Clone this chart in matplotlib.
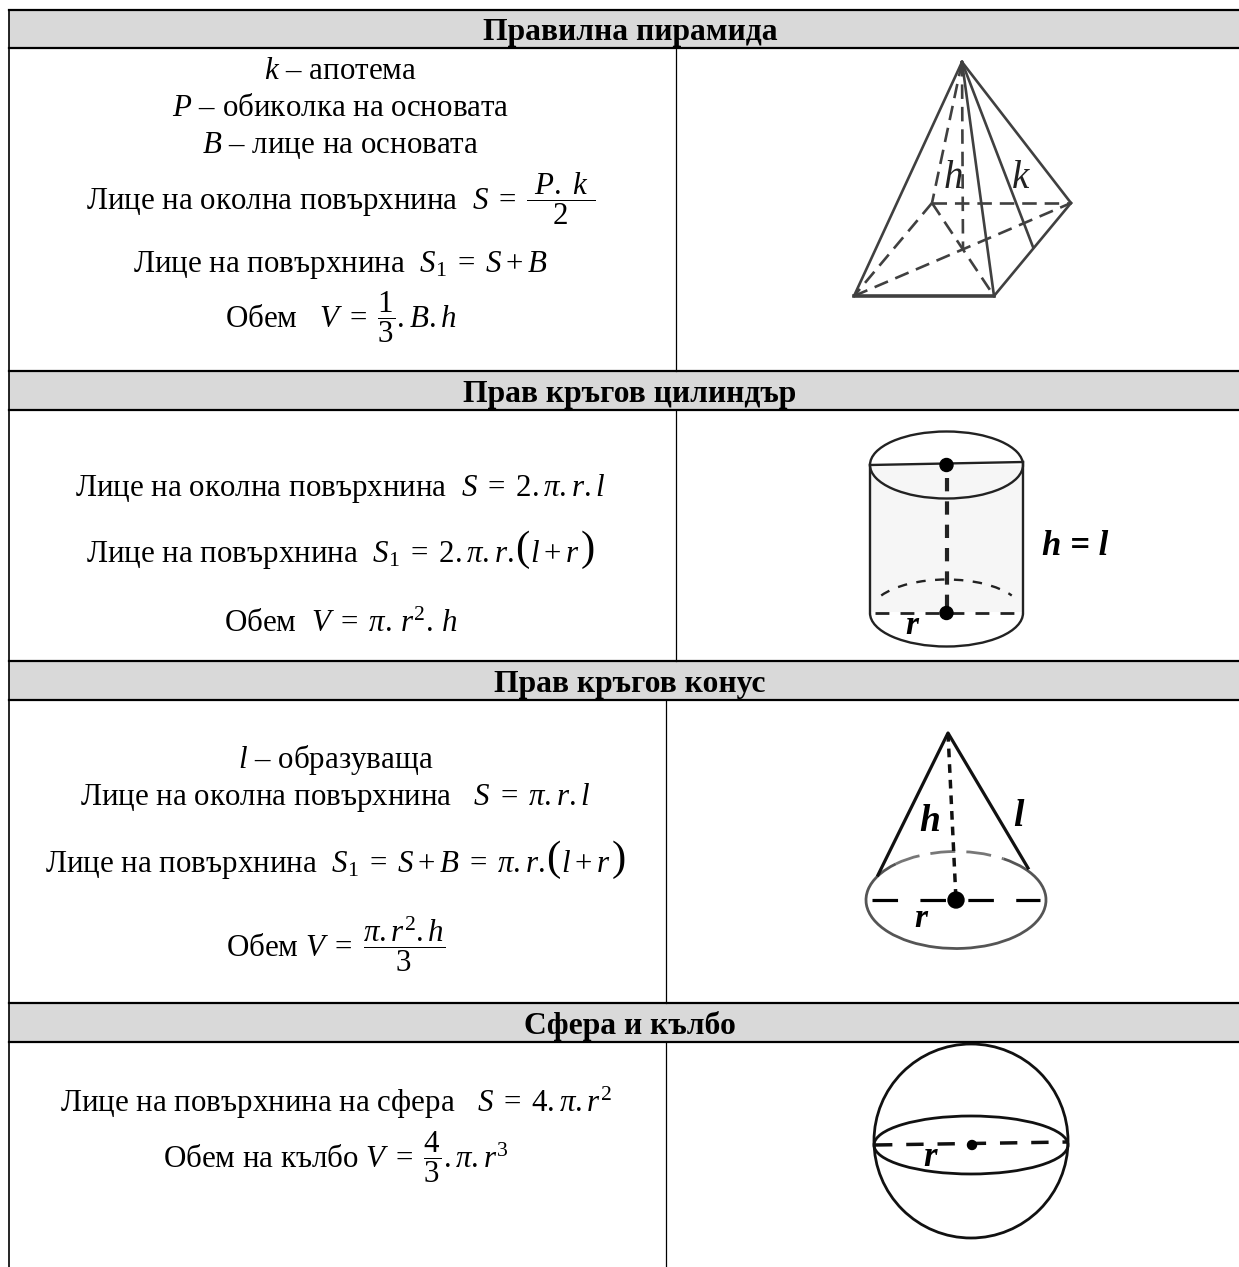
import matplotlib
matplotlib.use('Agg')
import matplotlib.pyplot as plt
from matplotlib.patches import Arc, Circle, Polygon

plt.rcParams['font.family'] = ['Liberation Serif', 'DejaVu Serif']
plt.rcParams['mathtext.fontset'] = 'custom'
plt.rcParams['mathtext.rm'] = 'Liberation Serif'
plt.rcParams['mathtext.it'] = 'Liberation Serif:italic'
plt.rcParams['mathtext.bf'] = 'Liberation Serif:bold'

headers = ['Правилна пирамида', 'Прав кръгов цилиндър', 'Прав кръгов конус', 'Сфера и кълбо']
header_tops = [10, 371, 661, 1003]
header_bottoms = [48, 410, 700, 1042]
column_lines = [676, 676, 666, 666]
body_bottoms = [371, 661, 1003, 1267]

# a line is a list of pieces, parens are drawn bigger than the rest
pyramid_lines = [['$k$ – апотема'], ['$P$ – обиколка на основата'], ['$B$ – лице на основата'],
                 [r'Лице на околна повърхнина  $S\;=\;\dfrac{\ P.\ k\ }{2}$'],
                 [r'Лице на повърхнина  $S_1\;=\;S+B$'],
                 [r'Обем   $V\;=\;\dfrac{1}{3}.B.h$']]
pyramid_y = [79, 116, 153, 210, 272, 328]
cylinder_lines = [[r'Лице на околна повърхнина  $S\;=\;2.\pi.r.l$'],
                  [r'Лице на повърхнина  $S_1\;=\;2.\pi.r.$', '(', '$l+r$', ')'],
                  [r'Обем  $V\;=\;\pi.\,r^2.\,h$']]
cylinder_y = [496, 562, 632]
cone_lines = [['$l$ – образуваща'],
              [r'Лице на околна повърхнина   $S\;=\;\pi.r.l$'],
              [r'Лице на повърхнина  $S_1\;=\;S+B\;=\;\pi.r.\,$', '(', '$l+r$', ')'],
              [r'Обем $V\;=\;\dfrac{\pi.r^2.h}{3}$']]
cone_y = [768, 805, 872, 957]
sphere_lines = [[r'Лице на повърхнина на сфера   $S\;=\;4.\pi.r^2$'],
                [r'Обем на кълбо $V\;=\;\dfrac{4}{3}.\pi.r^3$']]
sphere_y = [1112, 1168]

fig = plt.figure(figsize=(12.39, 12.67), dpi=100)
ax = fig.add_axes([0, 0, 1, 1])
ax.set_xlim(0, 1239)
ax.set_ylim(1267, 0)
ax.axis('off')
rend = fig.canvas.get_renderer()


def draw_line(pieces, cx, y):
    # place pieces one after the other, measured, then centred on cx
    items = []
    for p in pieces:
        big = p in '()'
        t = ax.text(0, y - 2 if big else y, p, ha='left', va='baseline', fontsize=31 if big else 22.3)
        items.append((t, t.get_window_extent(rend).width + 1))
    x = cx - sum(w for t, w in items) / 2
    for t, w in items:
        t.set_x(x)
        x += w


# table
for i in range(4):
    ax.fill_between([9, 1239], header_tops[i], header_bottoms[i], color='#d9d9d9', lw=0)
    ax.plot([9, 1239], [header_tops[i]] * 2, color='k', lw=1.6)
    ax.plot([9, 1239], [header_bottoms[i]] * 2, color='k', lw=1.6)
    ax.plot([column_lines[i]] * 2, [header_bottoms[i], body_bottoms[i]], color='k', lw=0.9)
    ax.text(630, header_bottoms[i] - 8, headers[i], ha='center', va='baseline', fontsize=22.8, fontweight='bold')
ax.plot([9, 9], [10, 1267], color='k', lw=1.2)

for lines, ys, cx in [(pyramid_lines, pyramid_y, 341), (cylinder_lines, cylinder_y, 341),
                      (cone_lines, cone_y, 336), (sphere_lines, sphere_y, 336)]:
    for s, y in zip(lines, ys):
        draw_line(s, cx, y)

# pyramid
grey = '#404040'
solid = [((854, 296), (962, 62)), ((962, 62), (1071, 203)), ((962, 62), (994, 296)),
         ((962, 62), (1033, 247)), ((994, 296), (1071, 203))]
dashed = [((962, 62), (932, 203)), ((962, 62), (963, 248)), ((932, 203), (854, 296)),
          ((932, 203), (1071, 203)), ((854, 296), (1071, 203)), ((932, 203), (994, 296))]
for a, b in solid:
    ax.plot([a[0], b[0]], [a[1], b[1]], color=grey, lw=1.9)
ax.plot([854, 994], [296, 296], color=grey, lw=2.6)
for a, b in dashed:
    ax.plot([a[0], b[0]], [a[1], b[1]], color=grey, lw=1.9, dashes=(5.5, 3))
ax.text(953, 188, '$h$', fontsize=28, ha='center', va='baseline', color='#222222')
ax.text(1021, 188, '$k$', fontsize=28, ha='center', va='baseline', color='#222222')

# cylinder
dark = '#222222'
ax.add_patch(Polygon([(870, 465), (1023, 465), (1023, 612), (870, 612)], color='#f6f6f6', lw=0))
ax.add_patch(Arc((946.5, 465), 153, 67, color=dark, lw=1.7))
ax.add_patch(Arc((946.5, 613), 153, 67, theta1=0, theta2=180, color=dark, lw=1.7))
ax.add_patch(Arc((946.5, 613), 153, 67, theta1=195, theta2=345, color=dark, lw=1.7, ls=(0, (4, 4))))
ax.plot([870, 1023], [465, 462], color=dark, lw=1.7)
ax.plot([870, 870], [465, 612], color=dark, lw=1.7)
ax.plot([1023, 1023], [462, 612], color=dark, lw=1.7)
ax.plot([946.5, 946.5], [478, 613], color=dark, lw=3, dashes=(3.2, 2.4))
ax.plot([875, 1018], [613, 613], color=dark, lw=2, dashes=(5, 4))
ax.add_patch(Circle((946.5, 465), 6.5, color='k', zorder=4))
ax.add_patch(Circle((946.5, 613), 6.5, color='k', zorder=4))
ax.text(912, 634, 'r', fontsize=24, ha='center', va='baseline', style='italic', fontweight='bold')
ax.text(1075, 555, 'h = l', fontsize=25, ha='center', va='baseline', style='italic', fontweight='bold')

# cone
ax.plot([878, 948, 1028], [875, 733, 868], color='#111111', lw=2.3)
ax.add_patch(Arc((956, 900), 180, 97, theta1=-41, theta2=211, color='#555555', lw=2))
ax.add_patch(Arc((956, 900), 180, 97, theta1=211, theta2=319, color='#777777', lw=2, ls=(0, (9, 4))))
ax.plot([948, 956], [733, 900], color='#111111', lw=2.5, dashes=(2.5, 2))
ax.plot([872, 1040], [900, 900], color='k', lw=2.3, dashes=(8, 7))
ax.add_patch(Circle((956, 900), 8, color='k', zorder=4))
ax.text(930, 831, 'h', fontsize=27, ha='center', va='baseline', style='italic', fontweight='bold')
ax.text(1018, 826, 'l', fontsize=27, ha='center', va='baseline', style='italic', fontweight='bold')
ax.text(921, 927, 'r', fontsize=24, ha='center', va='baseline', style='italic', fontweight='bold')

# sphere
ax.add_patch(Circle((971, 1141), 97, fill=False, color='#111111', lw=2))
ax.add_patch(Arc((971, 1145), 194, 58, color='#111111', lw=2))
ax.plot([875, 1067], [1145, 1142], color='#111111', lw=2.5, dashes=(5, 4))
ax.add_patch(Circle((972, 1145), 4.5, color='k', zorder=4))
ax.text(930, 1166, 'r', fontsize=25, ha='center', va='baseline', style='italic', fontweight='bold')

fig.savefig('out.png', dpi=100)
